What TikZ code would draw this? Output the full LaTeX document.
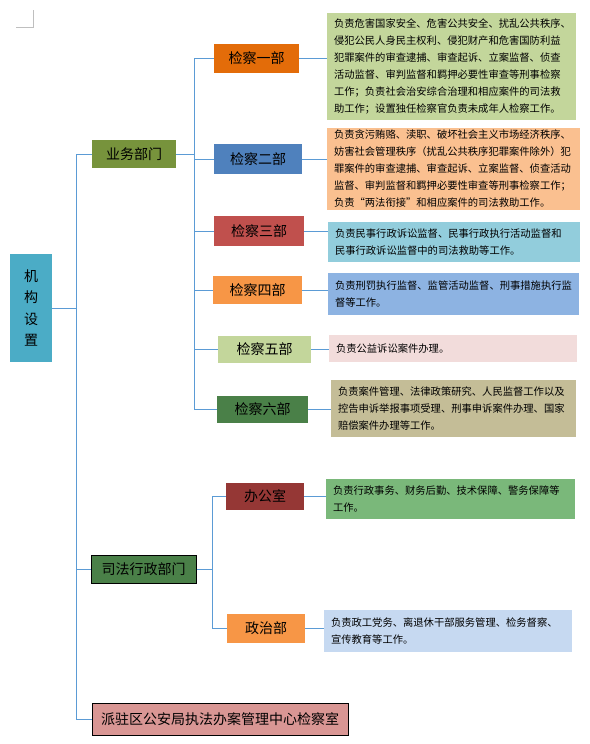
\documentclass[tikz,border=0pt]{standalone}
\usepackage{fontspec}
\setmainfont{Noto Sans CJK SC}
\definecolor{rootblue}{HTML}{4BACC6}
\definecolor{linkblue}{HTML}{5B9BD5}
\definecolor{olive}{HTML}{77933C}
\definecolor{darkgreen}{HTML}{4A8048}
\definecolor{orangeA}{HTML}{E36C09}
\definecolor{steel}{HTML}{4F81BD}
\definecolor{brick}{HTML}{C0504D}
\definecolor{orangeB}{HTML}{F79646}
\definecolor{lightolive}{HTML}{C3D69B}
\definecolor{maroon}{HTML}{953735}
\definecolor{rose}{HTML}{D99694}
\definecolor{peach}{HTML}{FAC090}
\definecolor{aqua}{HTML}{92CDDC}
\definecolor{sky}{HTML}{8DB3E2}
\definecolor{pinkish}{HTML}{F2DCDB}
\definecolor{khaki}{HTML}{C4BD97}
\definecolor{leaf}{HTML}{7AB87A}
\definecolor{paleblue}{HTML}{C6D9F1}
\begin{document}
\begin{tikzpicture}[x=1pt,y=-1pt,
		unit/.style 2 args={minimum width=#1,minimum height=#2,inner sep=0pt,font=\fontsize{14}{21.5}\selectfont},
		duty/.style 2 args={text width=#1,minimum height=#2,inner xsep=7pt,inner ysep=0pt,align=left,font=\fontsize{10.3}{17}\selectfont},
		link/.style={linkblue,line width=0.9pt}]
			\useasboundingbox (0,0) rectangle (589,744);
			\draw [black!25] (33,10) -- (33,27) -- (16,27);
			% units
			\node [unit={42pt}{108pt},fill=rootblue,align=center] (root) at (31,308) {机\\构\\设\\置};
			\node [unit={84pt}{28pt},fill=olive] (yewu) at (134,154) {业务部门};
			\node [unit={105pt}{28pt},fill=darkgreen,draw=black,line width=1pt] (sifa) at (143.5,569) {司法行政部门};
			\node [unit={256pt}{32pt},fill=rose,draw=black,line width=1pt] (paizhu) at (220,719) {派驻区公安局执法办案管理中心检察室};
			\node [unit={85pt}{29pt},fill=orangeA] (jc1) at (256.5,58.5) {检察一部};
			\node [unit={88pt}{30pt},fill=steel] (jc2) at (258,159) {检察二部};
			\node [unit={90pt}{30pt},fill=brick] (jc3) at (259,231) {检察三部};
			\node [unit={89pt}{28pt},fill=orangeB] (jc4) at (257.5,290) {检察四部};
			\node [unit={93pt}{27pt},fill=lightolive] (jc5) at (264.5,349.5) {检察五部};
			\node [unit={91pt}{27pt},fill=darkgreen] (jc6) at (262.5,409.5) {检察六部};
			\node [unit={78pt}{27pt},fill=maroon] (bgs) at (265,496.5) {办公室};
			\node [unit={78pt}{29pt},fill=orangeB] (zzb) at (266,628.5) {政治部};
			% duties
			\node [duty={235pt}{107pt},fill=lightolive] (d1) at (451.5,66.5) {负责危害国家安全、危害公共安全、扰乱公共秩序、\\侵犯公民人身民主权利、侵犯财产和危害国防利益\\犯罪案件的审查逮捕、审查起诉、立案监督、侦查\\活动监督、审判监督和羁押必要性审查等刑事检察\\工作；负责社会治安综合治理和相应案件的司法救\\助工作；设置独任检察官负责未成年人检察工作。};
			\node [duty={239pt}{82pt},fill=peach] (d2) at (453.5,169) {负责贪污贿赂、渎职、破坏社会主义市场经济秩序、\\妨害社会管理秩序（扰乱公共秩序犯罪案件除外）犯\\罪案件的审查逮捕、审查起诉、立案监督、侦查活动\\监督、审判监督和羁押必要性审查等刑事检察工作；\\负责“两法衔接”和相应案件的司法救助工作。};
			\node [duty={238pt}{40pt},fill=aqua] (d3) at (454,242) {负责民事行政诉讼监督、民事行政执行活动监督和\\民事行政诉讼监督中的司法救助等工作。};
			\node [duty={237pt}{42pt},fill=sky] (d4) at (453.5,294) {负责刑罚执行监督、监管活动监督、刑事措施执行监\\督等工作。};
			\node [duty={234pt}{27pt},fill=pinkish] (d5) at (453,348.5) {负责公益诉讼案件办理。};
			\node [duty={231pt}{57pt},fill=khaki] (d6) at (453.5,408.5) {负责案件管理、法律政策研究、人民监督工作以及\\控告申诉举报事项受理、刑事申诉案件办理、国家\\赔偿案件办理等工作。};
			\node [duty={235pt}{40pt},fill=leaf] (d7) at (450.5,499) {负责行政事务、财务后勤、技术保障、警务保障等\\工作。};
			\node [duty={234pt}{42pt},fill=paleblue] (d8) at (448,631) {负责政工党务、离退休干部服务管理、检务督察、\\宣传教育等工作。};
			% tree
			\draw [link] (root.east) -- ++(24,0) coordinate (trunkA);
			\draw [link] (trunkA) |- (yewu.west);
			\draw [link] (trunkA) |- (sifa.west);
			\draw [link] (trunkA) |- (paizhu.west);
			\draw [link] (yewu.east) -- ++(18,0) coordinate (trunkB);
			\foreach \n in {jc1,jc2,jc3,jc4,jc5,jc6}
				\draw [link] (trunkB) |- (\n.west);
			\draw [link] (sifa.east) -- ++(16,0) coordinate (trunkC);
			\draw [link] (trunkC) |- (bgs.west);
			\draw [link] (trunkC) |- (zzb.west);
			% duties
			\foreach \a/\b in {jc1/d1,jc2/d2,jc3/d3,jc4/d4,jc5/d5,jc6/d6,bgs/d7,zzb/d8}
				\draw [link] (\a.east) -- (\a.east -| \b.west);
		\end{tikzpicture}
\end{document}
